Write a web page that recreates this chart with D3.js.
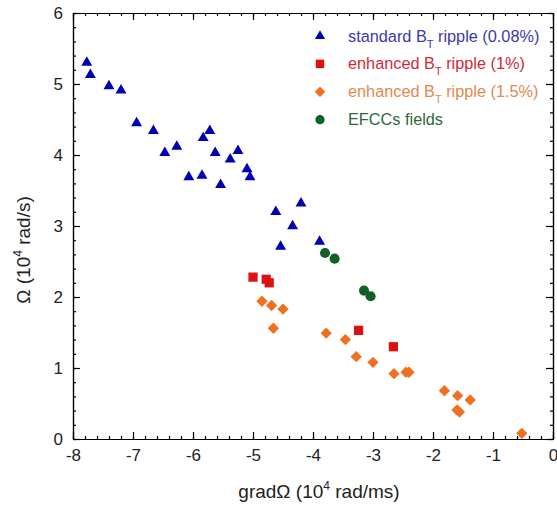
<!DOCTYPE html>
<html>
<head>
<meta charset="utf-8">
<script src="https://cdn.jsdelivr.net/npm/d3@7"></script>
<style>
  body { margin: 0; background: #fff; }
  svg { display: block; font-family: "Liberation Sans", Arial, sans-serif; }
</style>
</head>
<body>
<svg id="chart"></svg>
<script>
// data
const standardX = [-7.77, -7.71, -7.40, -7.20, -6.94, -6.66, -6.47, -6.27, -6.07, -5.85, -5.83, -5.72,
  -5.63, -5.54, -5.38, -5.25, -5.10, -5.05, -4.62, -4.54, -4.34, -4.20, -3.89];
const standardY = [5.30, 5.13, 4.97, 4.91, 4.45, 4.34, 4.03, 4.12, 3.69, 3.71, 4.24, 4.34,
  4.03, 3.58, 3.94, 4.06, 3.80, 3.69, 3.20, 2.71, 3.00, 3.32, 2.78];

const enh1X = [-5.00, -4.78, -4.73, -3.24, -2.66];
const enh1Y = [2.28, 2.25, 2.20, 1.53, 1.30];

const enh15X = [-4.85, -4.69, -4.50, -4.66, -3.78, -3.46, -3.28, -3.00, -2.65, -2.45, -2.40,
  -1.81, -1.59, -1.38, -1.60, -1.56, -0.52];
const enh15Y = [1.94, 1.88, 1.83, 1.56, 1.49, 1.40, 1.16, 1.08, 0.92, 0.94, 0.94,
  0.68, 0.61, 0.55, 0.41, 0.38, 0.08];

const efccX = [-3.80, -3.64, -3.15, -3.04];
const efccY = [2.62, 2.54, 2.09, 2.01];

const xTicks = [-8, -7, -6, -5, -4, -3, -2, -1, 0];
const yTicks = [0, 1, 2, 3, 4, 5, 6];

const width = 557, height = 510;
const margin = { top: 13, right: 4, bottom: 71, left: 73 };
const innerW = width - margin.left - margin.right;
const innerH = height - margin.top - margin.bottom;

const svg = d3.select('#chart').attr('width', width).attr('height', height);
const g = svg.append('g').attr('transform', `translate(${margin.left},${margin.top})`);

const x = d3.scaleLinear().domain([-8, 0]).range([0, innerW]);
const y = d3.scaleLinear().domain([0, 6]).range([innerH, 0]);

const minorX = d3.range(-8, 0.001, 0.2);
const minorY = d3.range(0, 6.001, 0.2);

// minor ticks, all four sides, pointing inward
g.append('g').attr('transform', `translate(0,${innerH})`)
  .call(d3.axisBottom(x).tickValues(minorX).tickSize(-3).tickSizeOuter(0).tickFormat(''));
g.append('g')
  .call(d3.axisTop(x).tickValues(minorX).tickSize(-3).tickSizeOuter(0).tickFormat(''));
g.append('g')
  .call(d3.axisLeft(y).tickValues(minorY).tickSize(-3).tickSizeOuter(0).tickFormat(''));
g.append('g').attr('transform', `translate(${innerW},0)`)
  .call(d3.axisRight(y).tickValues(minorY).tickSize(-3).tickSizeOuter(0).tickFormat(''));

// major ticks
const xAxis = g.append('g').attr('transform', `translate(0,${innerH})`)
  .call(d3.axisBottom(x).tickValues(xTicks).tickSize(-7).tickSizeOuter(0).tickPadding(10).tickFormat(d3.format('d')));
g.append('g')
  .call(d3.axisTop(x).tickValues(xTicks).tickSize(-7).tickSizeOuter(0).tickFormat(''));
const yAxis = g.append('g')
  .call(d3.axisLeft(y).tickValues(yTicks).tickSize(-7).tickSizeOuter(0).tickPadding(10).tickFormat(d3.format('d')));
g.append('g').attr('transform', `translate(${innerW},0)`)
  .call(d3.axisRight(y).tickValues(yTicks).tickSize(-7).tickSizeOuter(0).tickFormat(''));

g.selectAll('.domain').attr('stroke', '#000').attr('stroke-width', 1.2);
g.selectAll('.tick line').attr('stroke', '#000').attr('stroke-width', 1.2);
xAxis.selectAll('text').style('font-size', '17px').attr('fill', '#222')
  .text(d => d < 0 ? '-' + Math.abs(d) : d);
yAxis.selectAll('text').style('font-size', '17px').attr('fill', '#222');

// series
const series = [
  { name: 'standard', xs: standardX, ys: standardY, type: d3.symbolTriangle, size: 52, rot: 0, color: '#0000b4' },
  { name: 'enh1', xs: enh1X, ys: enh1Y, type: d3.symbolSquare, size: 85, rot: 0, color: '#dd1111' },
  { name: 'enh15', xs: enh15X, ys: enh15Y, type: d3.symbolSquare, size: 64, rot: 45, color: '#ef7020' },
  { name: 'efcc', xs: efccX, ys: efccY, type: d3.symbolCircle, size: 80, rot: 0, color: '#0f6125' },
];

series.forEach(s => {
  const sym = d3.symbol().type(s.type).size(s.size);
  g.append('g').selectAll('path')
    .data(s.xs.map((v, i) => [v, s.ys[i]]))
    .join('path')
    .attr('d', sym)
    .attr('transform', d => `translate(${x(d[0])},${y(d[1])}) rotate(${s.rot})`)
    .attr('fill', s.color);
});

// legend
const legendItems = [
  { s: series[0], pre: 'standard B', sub: 'T', post: ' ripple (0.08%)', color: '#3a3aae' },
  { s: series[1], pre: 'enhanced B', sub: 'T', post: ' ripple (1%)', color: '#d02a3a' },
  { s: series[2], pre: 'enhanced B', sub: 'T', post: ' ripple (1.5%)', color: '#e08a50' },
  { s: series[3], pre: 'EFCCs fields', sub: '', post: '', color: '#2a6a3a' },
];
const legend = svg.append('g').attr('transform', 'translate(320,36)');
legendItems.forEach((it, i) => {
  const row = legend.append('g').attr('transform', `translate(0,${i * 27.9})`);
  row.append('path')
    .attr('d', d3.symbol().type(it.s.type).size(it.s.size * 0.85)())
    .attr('transform', `rotate(${it.s.rot})`)
    .attr('fill', it.s.color);
  const t = row.append('text').attr('x', 28).attr('y', 5.5)
    .style('font-size', '16.3px').attr('fill', it.color);
  t.append('tspan').text(it.pre);
  if (it.sub) {
    t.append('tspan').attr('dy', 6).style('font-size', '11px').text(it.sub);
    t.append('tspan').attr('dy', -6).text(it.post);
  }
});

// axis titles
const xt = svg.append('text')
  .attr('x', margin.left + innerW / 2 + 6).attr('y', 498)
  .attr('text-anchor', 'middle').style('font-size', '19px').attr('fill', '#222');
xt.append('tspan').text('gradΩ (10');
xt.append('tspan').attr('dy', -8).style('font-size', '12px').text('4');
xt.append('tspan').attr('dy', 8).text(' rad/ms)');

const yt = svg.append('text')
  .attr('transform', `translate(30,${margin.top + innerH / 2 + 24}) rotate(-90)`)
  .attr('text-anchor', 'middle').style('font-size', '19px').attr('fill', '#222');
yt.append('tspan').text('Ω (10');
yt.append('tspan').attr('dy', -8).style('font-size', '12px').text('4');
yt.append('tspan').attr('dy', 8).text(' rad/s)');
</script>
</body>
</html>
